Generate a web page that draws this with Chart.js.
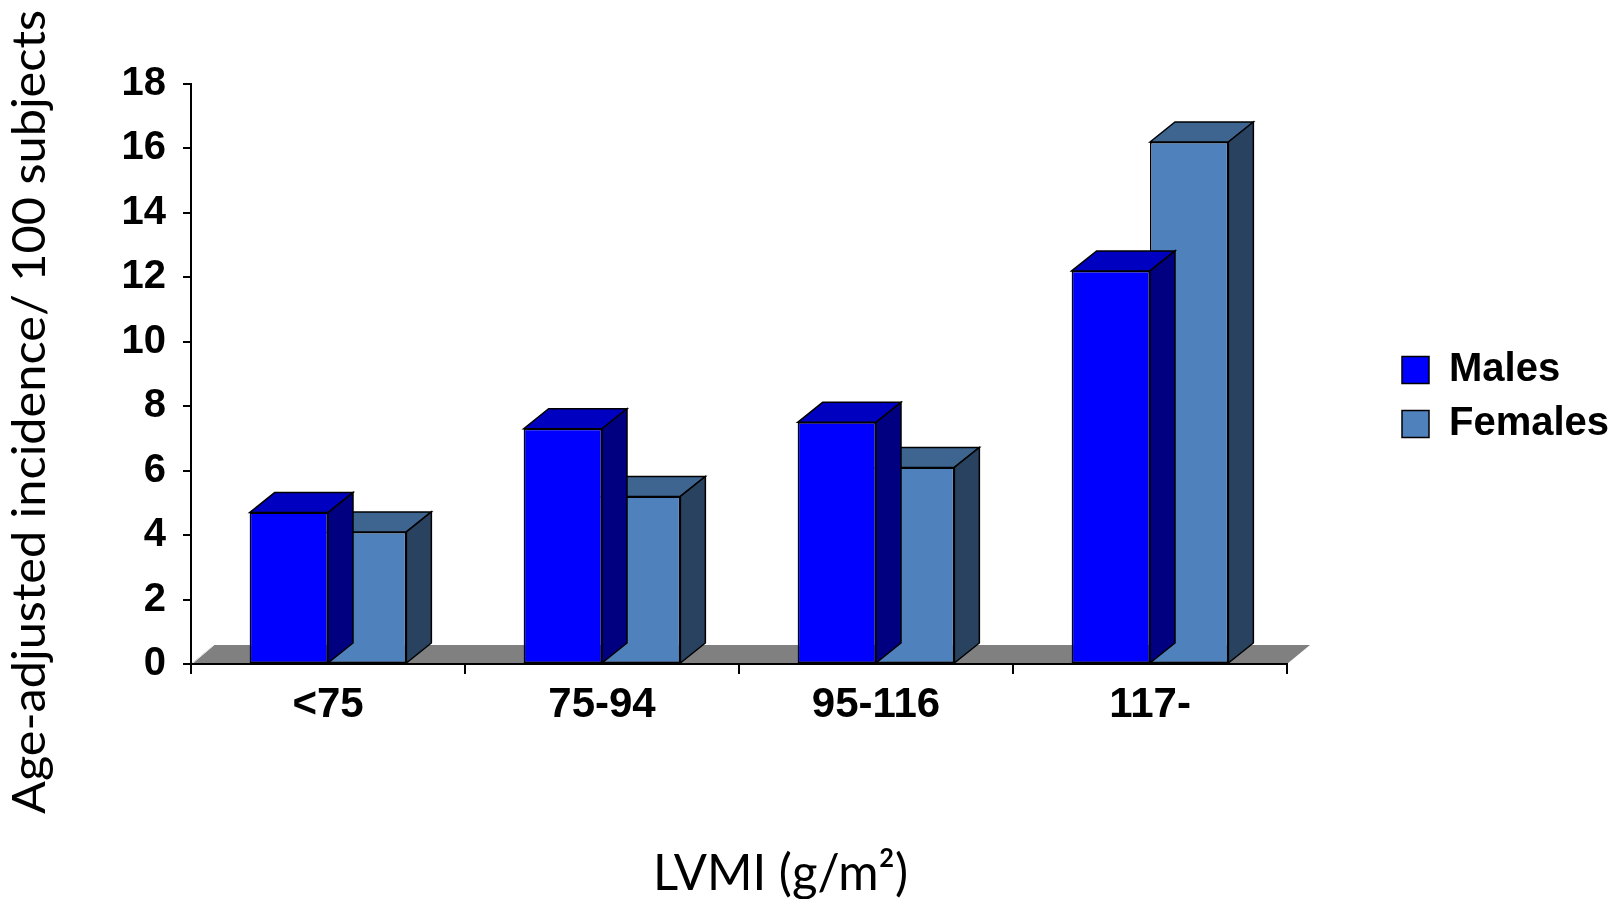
<!DOCTYPE html>
<html>
<head>
<meta charset="utf-8">
<script src="https://cdn.jsdelivr.net/npm/chart.js@4.4.0/dist/chart.umd.min.js"></script>
<style>
html, body { margin: 0; padding: 0; background: #ffffff; }
#wrap { width: 1623px; height: 899px; position: relative; }
canvas { display: block; }
</style>
</head>
<body>
<div id="wrap"><canvas id="c" width="1623" height="899"></canvas></div>
<script>
// ---- data ----
const categories = ['<75', '75-94', '95-116', '117-'];
const males = [4.7, 7.3, 7.5, 12.2];
const females = [4.1, 5.2, 6.1, 16.2];
const seriesNames = ['Males', 'Females'];
const yTicksMin = 0;
const yTicksMax = 18;
const yTicksStep = 2;
const yAxisTitle = 'Age-adjusted incidence/ 100 subjects';
const xAxisTitle = 'LVMI (g/m\u00B2)';

// ---- styles ----
const TICK_FONT = '"Liberation Sans", Arial, sans-serif';
const TITLE_FONT = 'Lato, Carlito, sans-serif';
const depth = { dx: 25, dy: -20 };
const floorDepth = { dx: 23, dy: -19 };
const faces = [
  { top: '#0000C0', side: '#000080' },
  { top: '#3D6590', side: '#28425F' }
];
const LEGEND_FONT_SIZE = 40;
const LEGEND_BOX = 27;
const LEGEND_PAD = 14;
const CHART_RIGHT = 1287;

// legend width as Chart.js computes it (vertical legend)
const mctx = document.createElement('canvas').getContext('2d');
mctx.font = 'bold ' + LEGEND_FONT_SIZE + 'px ' + TICK_FONT;
const maxTextW = Math.max(...seriesNames.map(s => mctx.measureText(s).width));
const legendW = LEGEND_PAD + LEGEND_BOX + LEGEND_FONT_SIZE / 2 + maxTextW + 10;
const rightPad = Math.max(0, 1623 - CHART_RIGHT - legendW);

const floorPlugin = {
  id: 'floor3d',
  beforeDraw(chart) {
    const ca = chart.chartArea;
    const ctx = chart.ctx;
    ctx.save();
    ctx.fillStyle = '#808080';
    ctx.beginPath();
    ctx.moveTo(ca.left, ca.bottom);
    ctx.lineTo(ca.left + floorDepth.dx, ca.bottom + floorDepth.dy);
    ctx.lineTo(ca.right + floorDepth.dx, ca.bottom + floorDepth.dy);
    ctx.lineTo(ca.right, ca.bottom);
    ctx.closePath();
    ctx.fill();
    ctx.strokeStyle = '#e8e8e8';
    ctx.lineWidth = 1;
    ctx.beginPath();
    ctx.moveTo(ca.left + 2, ca.bottom - 1);
    ctx.lineTo(ca.left + floorDepth.dx, ca.bottom + floorDepth.dy);
    ctx.stroke();
    ctx.restore();
  }
};

const bar3dPlugin = {
  id: 'bar3d',
  afterDatasetDraw(chart, args) {
    const meta = chart.getDatasetMeta(args.index);
    const f = faces[args.index];
    const ctx = chart.ctx;
    ctx.save();
    ctx.lineWidth = 1.5;
    ctx.strokeStyle = '#000000';
    ctx.lineJoin = 'miter';
    meta.data.forEach(el => {
      const p = el.getProps(['x', 'y', 'base', 'width'], true);
      const l = p.x - p.width / 2, r = p.x + p.width / 2;
      const t = p.y, b = p.base;
      ctx.fillStyle = f.top;
      ctx.beginPath();
      ctx.moveTo(l, t);
      ctx.lineTo(l + depth.dx, t + depth.dy);
      ctx.lineTo(r + depth.dx, t + depth.dy);
      ctx.lineTo(r, t);
      ctx.closePath();
      ctx.fill();
      ctx.stroke();
      ctx.fillStyle = f.side;
      ctx.beginPath();
      ctx.moveTo(r, t);
      ctx.lineTo(r + depth.dx, t + depth.dy);
      ctx.lineTo(r + depth.dx, b + depth.dy);
      ctx.lineTo(r, b);
      ctx.closePath();
      ctx.fill();
      ctx.stroke();
    });
    ctx.restore();
  }
};

const legendPlacePlugin = {
  id: 'legendPlace',
  afterLayout(chart) {
    const lg = chart.legend;
    if (!lg) return;
    const w = lg.width, h = lg.height;
    lg.left = 1388;
    lg.right = lg.left + w;
    lg.top = 336;
    lg.bottom = lg.top + h;
  }
};

const axisTitlePlugin = {
  id: 'axisTitles',
  afterDraw(chart) {
    const ctx = chart.ctx;
    ctx.save();
    ctx.fillStyle = '#000000';
    ctx.textBaseline = 'alphabetic';
    ctx.font = '46px ' + TITLE_FONT;
    const wy = ctx.measureText(yAxisTitle).width;
    ctx.save();
    ctx.translate(45, 412);
    ctx.rotate(-Math.PI / 2);
    ctx.scale(804 / wy, 1);
    ctx.textAlign = 'center';
    ctx.fillText(yAxisTitle, 0, 0);
    ctx.restore();
    ctx.font = '51px ' + TITLE_FONT;
    const wx = ctx.measureText(xAxisTitle).width;
    ctx.save();
    ctx.translate(653, 890);
    ctx.scale(255 / wx, 1);
    ctx.textAlign = 'left';
    ctx.fillText(xAxisTitle, 0, 0);
    ctx.restore();
    ctx.restore();
  }
};

new Chart(document.getElementById('c'), {
  type: 'bar',
  data: {
    labels: categories,
    datasets: [
      { label: seriesNames[0], data: males, backgroundColor: '#0000FF', borderColor: '#000000', borderWidth: 1.5, borderSkipped: false },
      { label: seriesNames[1], data: females, backgroundColor: '#4F81BD', borderColor: '#000000', borderWidth: 1.5, borderSkipped: false }
    ]
  },
  options: {
    responsive: false,
    animation: false,
    devicePixelRatio: 1,
    categoryPercentage: 0.572,
    barPercentage: 1,
    layout: { padding: { top: 84, left: 0, right: rightPad, bottom: 0 } },
    plugins: {
      tooltip: { enabled: false },
      legend: {
        position: 'right',
        align: 'start',
        labels: {
          boxWidth: LEGEND_BOX,
          boxHeight: LEGEND_BOX,
          padding: LEGEND_PAD,
          color: '#000000',
          font: { family: TICK_FONT, size: LEGEND_FONT_SIZE, weight: 'bold' }
        }
      }
    },
    scales: {
      x: {
        grid: { offset: true, drawOnChartArea: false, drawTicks: true, tickLength: 10, color: '#000000', lineWidth: 2 },
        border: { display: true, color: '#000000', width: 2 },
        ticks: { color: '#000000', padding: 6, maxRotation: 0, font: { family: TICK_FONT, size: 42, weight: 'bold' } },
        afterFit(s) { s.height = 235; }
      },
      y: {
        min: yTicksMin,
        max: yTicksMax,
        grid: { drawOnChartArea: false, drawTicks: true, tickLength: 8, color: '#000000', lineWidth: 2 },
        border: { display: true, color: '#000000', width: 2 },
        ticks: { stepSize: yTicksStep, color: '#000000', padding: 17, font: { family: TICK_FONT, size: 40, weight: 'bold' } },
        afterFit(s) { s.width = 191; }
      }
    }
  },
  plugins: [floorPlugin, bar3dPlugin, legendPlacePlugin, axisTitlePlugin]
});
</script>
</body>
</html>
